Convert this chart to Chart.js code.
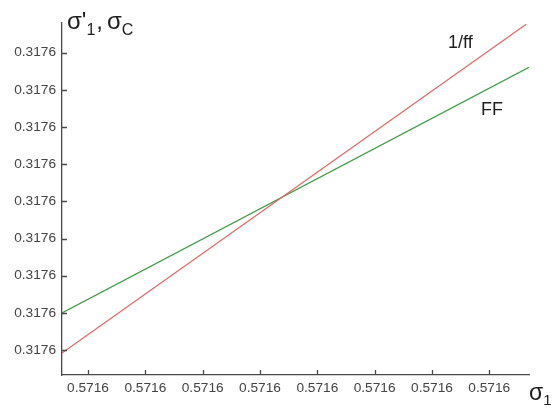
<!DOCTYPE html>
<html>
<head>
<meta charset="utf-8">
<script src="https://cdn.jsdelivr.net/npm/chart.js@4.4.1/dist/chart.umd.min.js"></script>
<style>
  html, body { margin: 0; padding: 0; background: #fff; }
  #wrap { width: 559px; height: 407px; }
</style>
</head>
<body>
<div id="wrap"><canvas id="c" width="559" height="407"></canvas></div>
<script>
// Tick values (they differ only beyond the 4th decimal)
const xTicks = [0.57157, 0.57158, 0.57159, 0.57160, 0.57161, 0.57162, 0.57163, 0.57164];
const yTicks = [0.31756, 0.31757, 0.31758, 0.31759, 0.31760, 0.31761, 0.31762, 0.31763, 0.31764];
const xRange = [0.57156546, 0.57164693];
const yRange = [0.31755328, 0.31764798];

// sigma_1 values and the two curves
const sigma1Inv = [0.57156546, 0.57164644];
const invFF     = [0.31755919, 0.31764763];
const sigma1FF  = [0.57156546, 0.57164693];
const FF        = [0.31756995, 0.31763608];

const FONT = "'Liberation Sans', Arial, sans-serif";
const AXIS_COLOR = '#4a4a4a';

function toPoints(xs, ys) { return xs.map((x, i) => ({ x: x, y: ys[i] })); }

// Inward tick marks, axis titles and curve labels
const decor = {
  id: 'decor',
  afterDraw(chart) {
    const ctx = chart.ctx;
    const xs = chart.scales.x, ys = chart.scales.y;
    const area = chart.chartArea;
    ctx.save();
    ctx.strokeStyle = AXIS_COLOR;
    ctx.lineWidth = 1.3;
    ctx.beginPath();
    xs.ticks.forEach(t => {
      const px = Math.round(xs.getPixelForValue(t.value)) + 0.5;
      ctx.moveTo(px, area.bottom);
      ctx.lineTo(px, area.bottom - 5);
    });
    ys.ticks.forEach(t => {
      const py = Math.round(ys.getPixelForValue(t.value)) + 0.5;
      ctx.moveTo(area.left, py);
      ctx.lineTo(area.left + 5, py);
    });
    ctx.stroke();

    ctx.fillStyle = '#1e1e1e';
    ctx.textBaseline = 'alphabetic';
    ctx.textAlign = 'left';

    function run(parts, x, y) {
      parts.forEach(p => {
        ctx.font = p.size + 'px ' + FONT;
        ctx.fillText(p.t, x, y + (p.dy || 0));
        x += ctx.measureText(p.t).width + (p.gap || 0);
      });
    }
    // y-axis title: σ'1, σC
    run([
      { t: "σ'", size: 24 },
      { t: '1', size: 16, dy: 6, gap: 1 },
      { t: ',', size: 24, gap: 4 },
      { t: 'σ', size: 24 },
      { t: 'C', size: 16, dy: 6 }
    ], 67, 29);
    // x-axis title: σ1
    run([
      { t: 'σ', size: 23 },
      { t: '1', size: 15, dy: 5 }
    ], 529, 400);

    // curve labels
    ctx.font = '18px ' + FONT;
    ctx.fillText('1/ff', 448, 48);
    ctx.fillText('FF', 481, 115);
    ctx.restore();
  }
};

new Chart(document.getElementById('c'), {
  type: 'scatter',
  data: {
    datasets: [
      {
        label: '1/ff',
        data: toPoints(sigma1Inv, invFF),
        showLine: true,
        borderColor: '#e06b6b',
        borderWidth: 1.3,
        pointRadius: 0,
        fill: false
      },
      {
        label: 'FF',
        data: toPoints(sigma1FF, FF),
        showLine: true,
        borderColor: '#3f9a45',
        borderWidth: 1.3,
        pointRadius: 0,
        fill: false
      }
    ]
  },
  options: {
    responsive: false,
    animation: false,
    layout: { padding: { top: 23, right: 30, left: 0, bottom: 0 } },
    plugins: { legend: { display: false }, tooltip: { enabled: false } },
    scales: {
      x: {
        type: 'linear',
        min: xRange[0],
        max: xRange[1],
        afterBuildTicks: s => { s.ticks = xTicks.map(v => ({ value: v })); },
        afterFit: s => { s.height = 32; },
        ticks: {
          callback: v => Number(v).toFixed(4),
          font: { family: FONT, size: 13.7 },
          color: '#444',
          padding: 5,
          maxRotation: 0,
          autoSkip: false
        },
        grid: { display: false, drawTicks: false },
        border: { color: AXIS_COLOR, width: 1.3 }
      },
      y: {
        type: 'linear',
        min: yRange[0],
        max: yRange[1],
        afterBuildTicks: s => { s.ticks = yTicks.map(v => ({ value: v })); },
        afterFit: s => { s.width = 62; },
        ticks: {
          callback: v => Number(v).toFixed(4),
          font: { family: FONT, size: 13.7 },
          color: '#444',
          padding: 6,
          autoSkip: false
        },
        grid: { display: false, drawTicks: false },
        border: { color: AXIS_COLOR, width: 1.3 }
      }
    }
  },
  plugins: [decor]
});
</script>
</body>
</html>
